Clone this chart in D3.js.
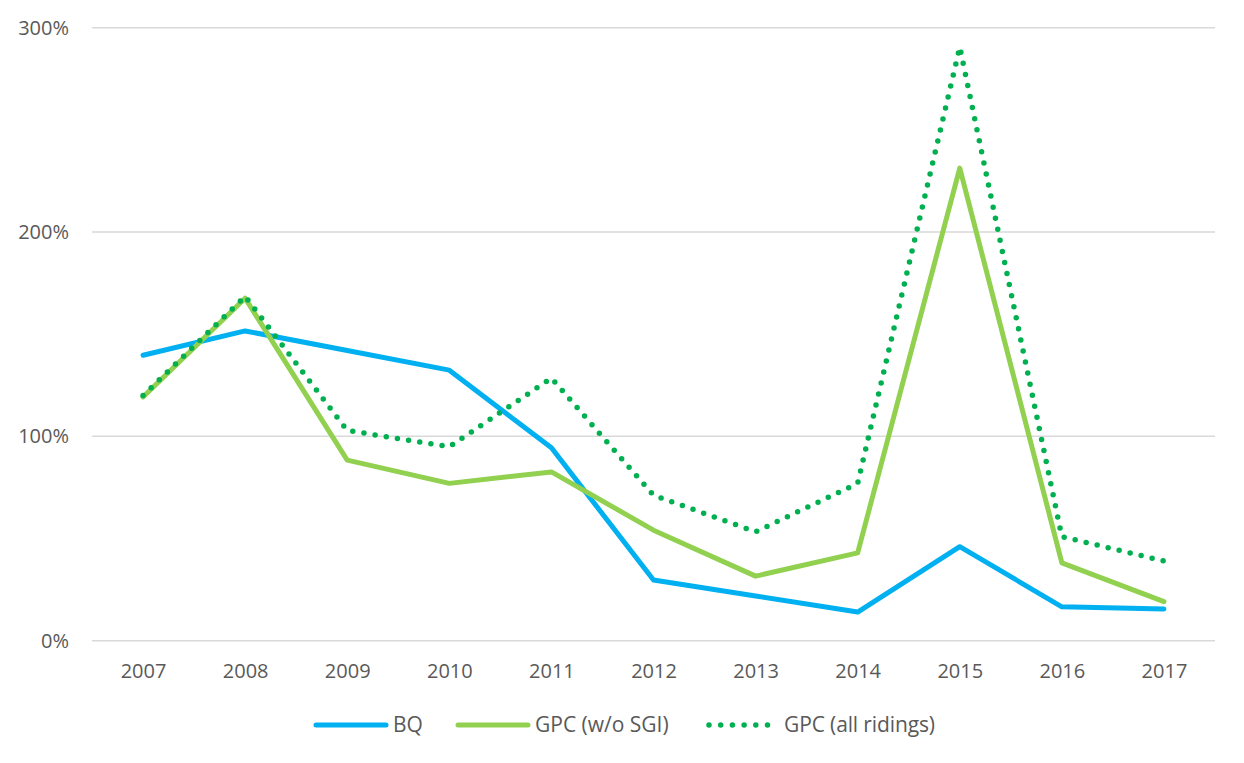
<!DOCTYPE html>
<html>
<head>
<meta charset="utf-8">
<script src="https://cdn.jsdelivr.net/npm/d3@7"></script>
<style>
  body { margin: 0; background: #fff; }
  svg text { font-family: "Open Sans", "Noto Sans", sans-serif; fill: #595959; }
</style>
</head>
<body>
<svg id="chart" width="1244" height="763"></svg>
<script>
const years = ["2007","2008","2009","2010","2011","2012","2013","2014","2015","2016","2017"];
const bq = [139.7, 151.6, 142, 132.4, 94.4, 29.7, 21.9, 14.0, 46, 16.6, 15.5];
const gpcNoSgi = [119.3, 167.6, 88.4, 77, 82.6, 54.1, 31.6, 43, 231.3, 38.1, 19.1];
const gpcAll = [120, 168.5, 102.9, 94.9, 128.5, 71.2, 53.3, 77, 290.5, 50.9, 39];
const yTicks = [0, 100, 200, 300];

const series = [
  { name: "BQ", values: bq, color: "#00B0F0", dash: null },
  { name: "GPC (w/o SGI)", values: gpcNoSgi, color: "#92D050", dash: null },
  { name: "GPC (all ridings)", values: gpcAll, color: "#00B050", dash: "0 11.3" }
];

const svg = d3.select("#chart");

// scales
const x = d3.scalePoint().domain(years).range([92, 1215]).padding(0.5);
const y = d3.scaleLinear().domain([0, 300]).range([640.7, 27.7]);

// gridlines
svg.append("g")
  .selectAll("line")
  .data(yTicks)
  .join("line")
    .attr("x1", 92)
    .attr("x2", 1215)
    .attr("y1", d => y(d))
    .attr("y2", d => y(d))
    .attr("stroke", "#d9d9d9")
    .attr("stroke-width", 1.5);

// y labels
const yAxis = svg.append("g")
  .attr("transform", "translate(69,0)")
  .call(d3.axisLeft(y).tickValues(yTicks).tickFormat(d => d + "%").tickSize(0).tickPadding(0));
yAxis.select(".domain").remove();
yAxis.selectAll("text").attr("font-size", 20).style("fill", "#595959").attr("font-family", null);

// x labels
const xAxis = svg.append("g")
  .attr("transform", "translate(0,664)")
  .call(d3.axisBottom(x).tickSize(0).tickPadding(0));
xAxis.select(".domain").remove();
xAxis.selectAll("text").attr("font-size", 20).style("fill", "#595959").attr("font-family", null);

// lines
const line = d3.line()
  .x((d, i) => x(years[i]))
  .y(d => y(d));

series.forEach(s => {
  svg.append("path")
    .datum(s.values)
    .attr("fill", "none")
    .attr("stroke", s.color)
    .attr("stroke-width", s.dash ? 5.5 : 5)
    .attr("stroke-linecap", "round")
    .attr("stroke-linejoin", "round")
    .attr("stroke-dasharray", s.dash)
    .attr("d", line);
});

// legend
const legendX = [316, 458, 709];
const legend = svg.append("g").attr("transform", "translate(0,725)");
series.forEach((s, i) => {
  const g = legend.append("g").attr("transform", `translate(${legendX[i]},0)`);
  g.append("line")
    .attr("x1", 0)
    .attr("x2", s.dash ? 58.5 : 70)
    .attr("y1", 0)
    .attr("y2", 0)
    .attr("stroke", s.color)
    .attr("stroke-width", s.dash ? 5.5 : 5)
    .attr("stroke-linecap", "round")
    .attr("stroke-dasharray", s.dash ? "0 11.7" : null);
  g.append("text")
    .attr("x", s.dash ? 75 : 77)
    .attr("y", 0)
    .attr("dy", "0.35em")
    .attr("font-size", 21)
    .attr("textLength", s.dash ? 151 : null)
    .text(s.name);
});
</script>
</body>
</html>
